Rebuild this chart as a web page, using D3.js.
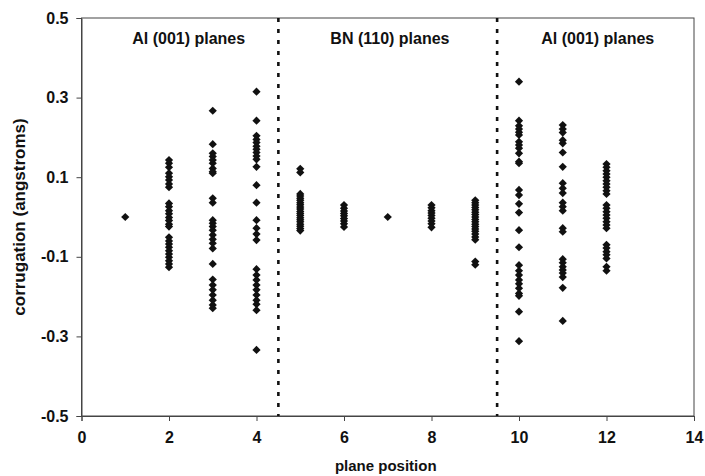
<!DOCTYPE html>
<html>
<head>
<meta charset="utf-8">
<script src="https://cdn.jsdelivr.net/npm/d3@7/dist/d3.min.js"></script>
<style>
  html, body { margin: 0; padding: 0; background: #fff; }
  svg text { font-family: "Liberation Sans", Arial, sans-serif; font-weight: bold; fill: #111; }
</style>
</head>
<body>
<svg id="chart" width="705" height="476"></svg>
<script>
// Corrugation of each atomic plane, grouped by plane position
const positions = [1, 2, 3, 4, 5, 6, 7, 8, 9, 10, 11, 12];

const plane1 = [0.0];
const plane2 = [0.143, 0.135, 0.125, 0.110, 0.101, 0.093, 0.083, 0.075,
  0.034, 0.026, 0.016, 0.008, -0.001, -0.009, -0.018, -0.024,
  -0.051, -0.060, -0.068, -0.076, -0.085, -0.093, -0.101, -0.110, -0.118, -0.126];
const plane3 = [0.267, 0.183, 0.160, 0.152, 0.143, 0.135, 0.122, 0.114, 0.110,
  0.047, 0.036, -0.008, -0.016, -0.024, -0.033, -0.045, -0.056, -0.066, -0.079,
  -0.118, -0.157, -0.171, -0.183, -0.196, -0.209, -0.221, -0.229];
const plane4 = [0.315, 0.242, 0.204, 0.195, 0.187, 0.178, 0.170, 0.162, 0.153, 0.145,
  0.126, 0.080, 0.036, -0.008, -0.028, -0.043, -0.058, -0.131, -0.146, -0.158,
  -0.171, -0.183, -0.196, -0.209, -0.219, -0.234, -0.334];
const plane5 = [0.121, 0.112, 0.058, 0.053, 0.047, 0.042, 0.036, 0.031, 0.025, 0.020,
  0.014, 0.009, 0.004, -0.002, -0.007, -0.012, -0.018, -0.023, -0.029, -0.034];
const plane6 = [0.030, 0.022, 0.015, 0.009, 0.003, -0.004, -0.010, -0.017, -0.025];
const plane7 = [0.0];
const plane8 = [0.030, 0.023, 0.016, 0.010, 0.004, -0.003, -0.010, -0.017, -0.026];
const plane9 = [0.042, 0.036, 0.030, 0.024, 0.018, 0.012, 0.006, 0.000, -0.006, -0.012,
  -0.018, -0.024, -0.030, -0.036, -0.043, -0.050, -0.057, -0.112, -0.120];
const plane10 = [0.340, 0.242, 0.229, 0.221, 0.213, 0.206, 0.189, 0.181, 0.173, 0.160,
  0.139, 0.135, 0.068, 0.055, 0.033, 0.011, -0.033, -0.076, -0.121, -0.135, -0.146,
  -0.158, -0.168, -0.179, -0.192, -0.198, -0.238, -0.312];
const plane11 = [0.231, 0.221, 0.212, 0.193, 0.185, 0.162, 0.126, 0.085, 0.072, 0.060,
  0.036, 0.026, 0.016, -0.028, -0.037, -0.106, -0.115, -0.125, -0.133, -0.141,
  -0.151, -0.178, -0.261];
const plane12 = [0.133, 0.125, 0.116, 0.108, 0.100, 0.091, 0.083, 0.075, 0.066, 0.058,
  0.030, 0.022, 0.013, 0.005, -0.003, -0.012, -0.020, -0.028, -0.070, -0.078,
  -0.087, -0.095, -0.104, -0.125, -0.135];

const corrugation = [plane1, plane2, plane3, plane4, plane5, plane6,
  plane7, plane8, plane9, plane10, plane11, plane12];

// Interfaces between the Al and BN regions
const boundaries = [4.5, 9.5];
const regionLabels = ["Al (001) planes", "BN (110) planes", "Al (001) planes"];
const regionCenters = [2.45, 7.05, 11.8];

const xTicks = [0, 2, 4, 6, 8, 10, 12, 14];
const yTicks = [0.5, 0.3, 0.1, -0.1, -0.3, -0.5];
const yTickLabels = ["0.5", "0.3", "0.1", "-0.1", "-0.3", "-0.5"];

const points = [];
positions.forEach((p, i) => corrugation[i].forEach(v => points.push({ x: p, y: v })));

const svg = d3.select("#chart");
const plot = { left: 81.5, right: 694, top: 18, bottom: 416 };

const x = d3.scaleLinear().domain([0, 14]).range([plot.left, plot.right]);
const y = d3.scaleLinear().domain([-0.5, 0.5]).range([plot.bottom, plot.top]);

const axisColor = "#444";

// Plot frame
svg.append("rect")
  .attr("x", plot.left).attr("y", plot.top)
  .attr("width", plot.right - plot.left).attr("height", plot.bottom - plot.top)
  .attr("fill", "none").attr("stroke", axisColor).attr("stroke-width", 1);

// Axes
const yAxis = svg.append("g")
  .attr("transform", `translate(${plot.left},0)`)
  .call(d3.axisLeft(y).tickValues(yTicks)
    .tickFormat((d, i) => yTickLabels[i]).tickSize(5).tickPadding(8));
const xAxis = svg.append("g")
  .attr("transform", `translate(0,${plot.bottom})`)
  .call(d3.axisBottom(x).tickValues(xTicks).tickFormat(d3.format("d")).tickSize(5).tickPadding(11));

[xAxis, yAxis].forEach(g => {
  g.select(".domain").attr("stroke", axisColor);
  g.selectAll(".tick line").attr("stroke", axisColor);
  g.selectAll(".tick text")
    .attr("fill", "#111")
    .style("font-family", '"Liberation Sans", Arial, sans-serif')
    .style("font-weight", "bold")
    .style("font-size", "16px");
});

// Region separators
svg.selectAll("line.boundary")
  .data(boundaries)
  .join("line")
  .attr("class", "boundary")
  .attr("x1", d => x(d)).attr("x2", d => x(d))
  .attr("y1", plot.top).attr("y2", plot.bottom)
  .attr("stroke", "#111")
  .attr("stroke-width", 2.6)
  .attr("stroke-dasharray", "4,7");

// Region labels
svg.selectAll("text.region")
  .data(regionLabels)
  .join("text")
  .attr("class", "region")
  .attr("x", (d, i) => x(regionCenters[i]))
  .attr("y", 44)
  .attr("text-anchor", "middle")
  .style("font-size", "16px")
  .text(d => d);

// Data markers (diamonds)
const r = 4.1;
svg.append("g")
  .selectAll("path")
  .data(points)
  .join("path")
  .attr("transform", d => `translate(${x(d.x)},${y(d.y)})`)
  .attr("d", `M0,${-r}L${r},0L0,${r}L${-r},0Z`)
  .attr("fill", "#111");

// Axis titles
svg.append("text")
  .attr("x", (plot.left + plot.right) / 2 - 2)
  .attr("y", 471)
  .attr("text-anchor", "middle")
  .style("font-size", "15px")
  .text("plane position");

svg.append("text")
  .attr("transform", `translate(25,${(plot.top + plot.bottom) / 2}) rotate(-90)`)
  .attr("text-anchor", "middle")
  .style("font-size", "17px")
  .text("corrugation (angstroms)");
</script>
</body>
</html>
